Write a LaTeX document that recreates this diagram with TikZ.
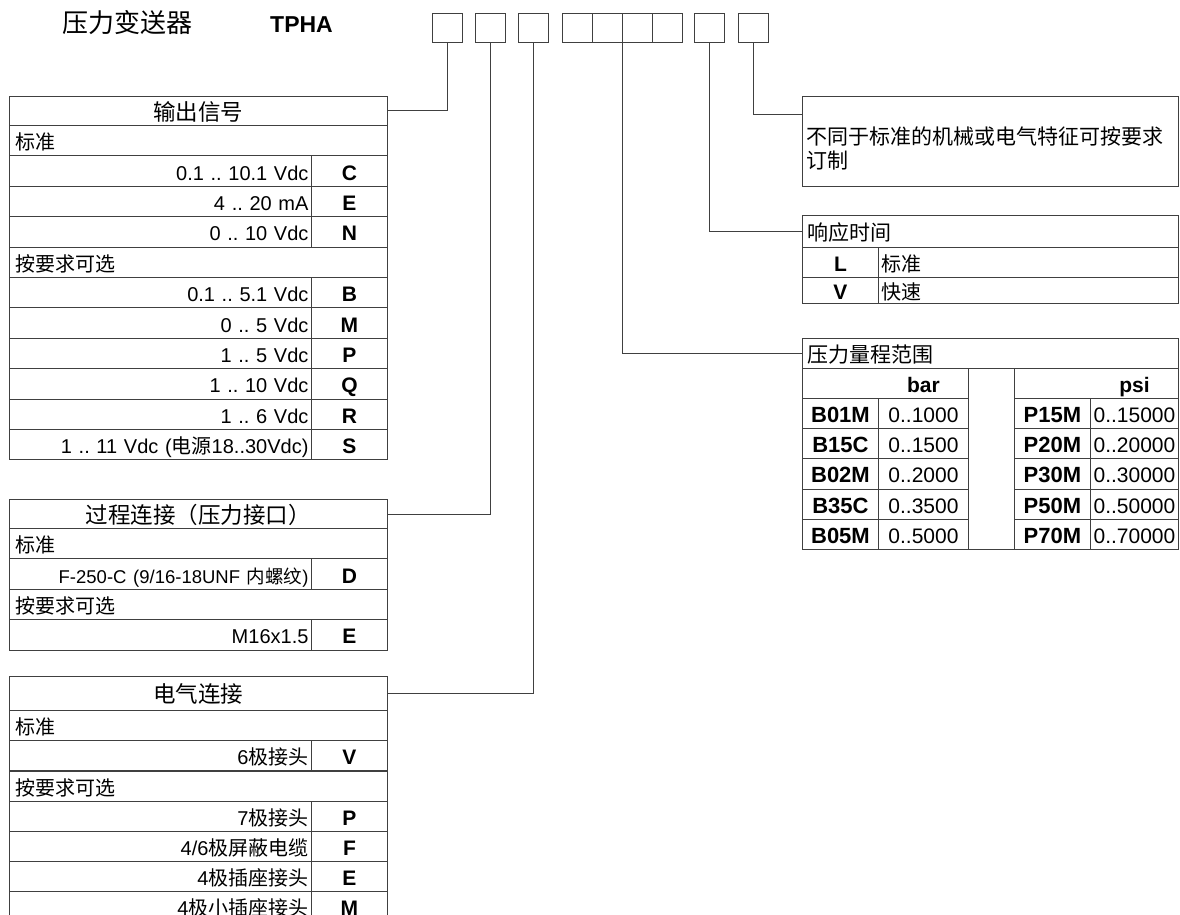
\documentclass[tikz,border=0pt]{standalone}
\usepackage{fontspec}
\setmainfont{Liberation Sans}
\newfontfamily\cjk{Noto Sans CJK SC}
\frenchspacing
\newcommand{\zh}[1]{{\cjk #1}}
\newcommand{\fsz}[1]{\fontsize{#1}{#1}\selectfont}
\tikzstyle{ln} = [draw=black!75, line width=0.9pt]
\tikzstyle{slot} = [ln, minimum width=30pt, minimum height=29pt, inner sep=0pt]
\tikzstyle{cell} = [ln, anchor=north west, inner xsep=3pt, inner ysep=0pt, minimum height=30.4pt, text height=18pt, text depth=0pt, font=\fsz{20}]
\tikzstyle{head} = [cell, text width=366pt, inner xsep=6pt, align=center, text height=19pt, font=\cjk\fsz{22.5}]
\tikzstyle{lbl} = [cell, text width=366pt, inner xsep=6pt, align=left, font=\cjk\fsz{20}]
\tikzstyle{val} = [cell, text width=296pt, align=right]
\tikzstyle{code} = [cell, text width=70pt, align=center, font=\bfseries\fsz{21}]
\tikzstyle{rhead} = [cell, text width=366pt, inner xsep=5pt, align=left, font=\cjk\fsz{21}]
\tikzstyle{rval} = [cell, text width=294pt, align=left, font=\cjk\fsz{20}]
\tikzstyle{pcode} = [cell, minimum height=30.2pt, text width=70pt, align=center, font=\bfseries\fsz{22}]
\tikzstyle{pval} = [cell, minimum height=30.2pt, text width=84pt, align=center, font=\fsz{21}]
\tikzstyle{ptxt} = [inner sep=0pt, text height=18pt, text depth=0pt, font=\bfseries\fsz{21}]

\begin{document}
\begin{tikzpicture}[x=1pt,y=-1pt]
\useasboundingbox (0,0) rectangle (1180,915);
\clip (0,0) rectangle (1180,915);
% title
\node[anchor=base west, inner sep=0pt, font=\cjk\fsz{26}] (ttl) at (62,33) {压力变送器};
\node[anchor=base west, inner sep=0pt, font=\bfseries\fsz{23}] (tpha) at (270,33) {TPHA};
% order code boxes
\node[slot] (k1) at (447,27.5) {};
\node[slot] (k2) at (490.5,27.5) {};
\node[slot] (k3) at (533.5,27.5) {};
\node[slot] (k4) at (577,27.5) {};
\node[slot] (k5) at (607,27.5) {};
\node[slot] (k6) at (637,27.5) {};
\node[slot] (k7) at (667,27.5) {};
\node[slot] (k8) at (709.5,27.5) {};
\node[slot] (k9) at (753.5,27.5) {};
% output signal
\node[head, minimum height=29pt] (o0) at (9,96) {输出信号};
\node[lbl] (o1) at (9,125) {标准};
\node[val] (o2) at (9,155.4) {0.1 .. 10.1 Vdc}; \node[code] (o2c) at (311,155.4) {C};
\node[val] (o3) at (9,185.8) {4 .. 20 mA}; \node[code] (o3c) at (311,185.8) {E};
\node[val] (o4) at (9,216.2) {0 .. 10 Vdc}; \node[code] (o4c) at (311,216.2) {N};
\node[lbl] (o5) at (9,246.6) {按要求可选};
\node[val] (o6) at (9,277) {0.1 .. 5.1 Vdc}; \node[code] (o6c) at (311,277) {B};
\node[val] (o7) at (9,307.4) {0 .. 5 Vdc}; \node[code] (o7c) at (311,307.4) {M};
\node[val] (o8) at (9,337.8) {1 .. 5 Vdc}; \node[code] (o8c) at (311,337.8) {P};
\node[val] (o9) at (9,368.2) {1 .. 10 Vdc}; \node[code] (o9c) at (311,368.2) {Q};
\node[val] (o10) at (9,398.6) {1 .. 6 Vdc}; \node[code] (o10c) at (311,398.6) {R};
\node[val] (o11) at (9,429) {1 .. 11 Vdc (\zh{电源}18..30Vdc)}; \node[code] (o11c) at (311,429) {S};
% process connection
\node[head, minimum height=29pt] (p0) at (9,499) {过程连接（压力接口）};
\node[lbl] (p1) at (9,528) {标准};
\node[val] (p2) at (9,558.4) {\fsz{18.5}F-250-C (9/16-18UNF \zh{内螺纹})}; \node[code] (p2c) at (311,558.4) {D};
\node[lbl] (p3) at (9,588.8) {按要求可选};
\node[val] (p4) at (9,619.2) {M16x1.5}; \node[code] (p4c) at (311,619.2) {E};
% electrical connection
\node[head, minimum height=34pt] (e0) at (9,676) {电气连接};
\node[lbl] (e1) at (9,710) {标准};
\node[val] (e2) at (9,740.2) {6\zh{极接头}}; \node[code] (e2c) at (311,740.2) {V};
\node[lbl] (e3) at (9,770.4) {按要求可选};
\node[val] (e4) at (9,800.6) {7\zh{极接头}}; \node[code] (e4c) at (311,800.6) {P};
\node[val] (e5) at (9,830.8) {4/6\zh{极屏蔽电缆}}; \node[code] (e5c) at (311,830.8) {F};
\node[val] (e6) at (9,861) {4\zh{极插座接头}}; \node[code] (e6c) at (311,861) {E};
\node[val] (e7) at (9,891.2) {4\zh{极小插座接头}}; \node[code] (e7c) at (311,891.2) {M};
% special versions
\node[ln, anchor=north west, minimum width=376pt, minimum height=90pt, inner sep=0pt] (s0) at (802,96) {};
\node[anchor=base west, inner sep=0pt, font=\cjk\fsz{21}] (s1) at (806,145) {不同于标准的机械或电气特征可按要求};
\node[anchor=base west, inner sep=0pt, font=\cjk\fsz{21}] (s2) at (806,168) {订制};
% response time
\node[rhead, minimum height=32pt] (t0) at (802,215) {响应时间};
\node[code, minimum height=30pt] (t1) at (802,247) {L}; \node[rval, minimum height=30pt] (t1v) at (878,247) {标准};
\node[code, minimum height=26pt] (t2) at (802,277) {V}; \node[rval, minimum height=26pt] (t2v) at (878,277) {快速};
% pressure range
\node[ln, anchor=north west, minimum width=376pt, minimum height=211pt, inner sep=0pt] (rbox) at (802,338) {};
\node[rhead, minimum height=30pt] (r0) at (802,338) {压力量程范围};
\node[cell, minimum width=166pt, minimum height=30pt] (rb) at (802,368) {};
\node[pcode] (rb1) at (802,398) {B01M}; \node[pval] (rb1v) at (878,398) {0..1000};
\node[pcode] (rb2) at (802,428.2) {B15C}; \node[pval] (rb2v) at (878,428.2) {0..1500};
\node[pcode] (rb3) at (802,458.4) {B02M}; \node[pval] (rb3v) at (878,458.4) {0..2000};
\node[pcode] (rb4) at (802,488.6) {B35C}; \node[pval] (rb4v) at (878,488.6) {0..3500};
\node[pcode] (rb5) at (802,518.8) {B05M}; \node[pval] (rb5v) at (878,518.8) {0..5000};
\node[ptxt] (rbt) at ([yshift=15pt]rb1v.north) {bar};
\node[cell, minimum width=164pt, minimum height=30pt] (rp) at (1014,368) {};
\node[pcode] (rp1) at (1014,398) {P15M}; \node[pval, text width=82pt] (rp1v) at (1090,398) {0..15000};
\node[pcode] (rp2) at (1014,428.2) {P20M}; \node[pval, text width=82pt] (rp2v) at (1090,428.2) {0..20000};
\node[pcode] (rp3) at (1014,458.4) {P30M}; \node[pval, text width=82pt] (rp3v) at (1090,458.4) {0..30000};
\node[pcode] (rp4) at (1014,488.6) {P50M}; \node[pval, text width=82pt] (rp4v) at (1090,488.6) {0..50000};
\node[pcode] (rp5) at (1014,518.8) {P70M}; \node[pval, text width=82pt] (rp5v) at (1090,518.8) {0..70000};
\node[ptxt] (rpt) at ([yshift=15pt]rp1v.north) {psi};
% connectors
\draw[ln] (k1.south) |- (o0.east);
\draw[ln] (k2.south) |- (p0.east);
\draw[ln] (k3.south) |- (e0.east);
\draw[ln] (k5.south east) |- (r0.west);
\draw[ln] (k8.south) |- (t0.west);
\draw[ln] (k9.south) |- ([yshift=-18pt]s0.north west);
\end{tikzpicture}
\end{document}
